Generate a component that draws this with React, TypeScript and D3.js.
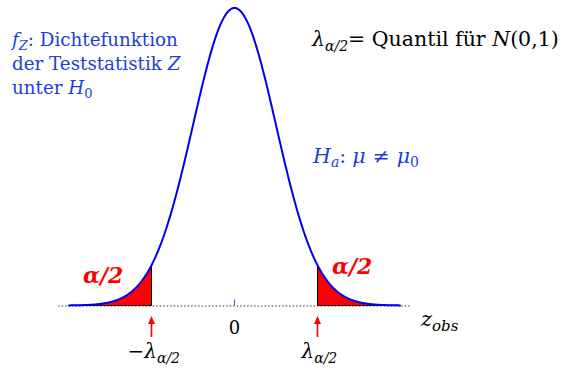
import React from "react";
import * as d3 from "d3";

// Standard normal density with two-sided rejection regions
const lambda = 2.0;
const xDomain = [-4, 4];
const baseDomain = [-4.25, 4.25];
const zeroTick = [0];

const W = 567;
const H = 371;

const phi = (z: number) => Math.exp(-0.5 * z * z) / Math.sqrt(2 * Math.PI);

export default function App() {
  const x = d3.scaleLinear().domain(xDomain).range([68.5, 400.5]);
  const y = d3.scaleLinear().domain([0, phi(0)]).range([305.5, 8]);

  const zs = d3.range(xDomain[0], xDomain[1] + 1e-9, 0.02);
  const line = d3
    .line<number>()
    .x((z) => x(z))
    .y((z) => y(phi(z)));

  const area = d3
    .area<number>()
    .x((z) => x(z))
    .y0(y(0))
    .y1((z) => y(phi(z)));

  const leftTail = zs.filter((z) => z <= -lambda).concat([-lambda]);
  const rightTail = [lambda].concat(zs.filter((z) => z >= lambda));

  const blue = "#1d3fd8";
  const font = "'DejaVu Serif', 'Liberation Serif', serif";

  const arrow = (xp: number) => (
    <g>
      <line x1={xp} x2={xp} y1={337} y2={322} stroke="#ff0000" strokeWidth={1.6} />
      <path d={`M${xp - 3.5},${324} L${xp},${316} L${xp + 3.5},${324} Z`} fill="#ff0000" />
    </g>
  );

  return (
    <svg
      width={W}
      height={H}
      style={{ position: "absolute", left: 0, top: 0, background: "#fff" }}
      fontFamily={font}
    >
      {/* dotted baseline */}
      <line
        x1={x(baseDomain[0])}
        x2={x(baseDomain[1])}
        y1={y(0) + 0.5}
        y2={y(0) + 0.5}
        stroke="#333"
        strokeWidth={1}
        strokeDasharray="1.5,2"
      />
      {/* rejection regions */}
      <path d={area(leftTail) || ""} fill="#ff0000" stroke="#000" strokeWidth={1} />
      <path d={area(rightTail) || ""} fill="#ff0000" stroke="#000" strokeWidth={1} />
      {/* density curve */}
      <path d={line(zs) || ""} fill="none" stroke="#0000ee" strokeWidth={2} />
      {/* tick at zero */}
      {zeroTick.map((t) => (
        <line key={t} x1={x(t)} x2={x(t)} y1={y(0) - 6} y2={y(0)} stroke="#3050ff" strokeWidth={1} />
      ))}
      {arrow(x(-lambda))}
      {arrow(x(lambda))}

      {/* axis labels */}
      <text x={x(0)} y={334} fontSize={18} textAnchor="middle" fill="#000">0</text>
      <text x={x(-lambda) - 24} y={358} fontSize={20} fill="#000">
        −<tspan fontStyle="italic">λ</tspan>
        <tspan fontSize={14} dy={5} fontStyle="italic">α/2</tspan>
      </text>
      <text x={x(lambda) - 16} y={358} fontSize={20} fill="#000">
        <tspan fontStyle="italic">λ</tspan>
        <tspan fontSize={14} dy={5} fontStyle="italic">α/2</tspan>
      </text>
      <text x={421} y={326} fontSize={21} fill="#000" fontStyle="italic">
        z<tspan fontSize={15} dy={5}>obs</tspan>
      </text>

      {/* tail labels */}
      <text x={83} y={283} fontSize={22} fontWeight="bold" fontStyle="italic" fill="#ff0000">α/2</text>
      <text x={332} y={274} fontSize={22} fontWeight="bold" fontStyle="italic" fill="#ff0000">α/2</text>

      {/* density description */}
      <text x={12} y={46} fontSize={18.3} fill={blue}>
        <tspan fontStyle="italic">f</tspan>
        <tspan fontStyle="italic" fontSize={13} dy={4}>Z</tspan>
        <tspan dy={-4}>: Dichtefunktion</tspan>
      </text>
      <text x={12} y={70} fontSize={18.3} fill={blue}>
        der Teststatistik <tspan fontStyle="italic">Z</tspan>
      </text>
      <text x={12} y={94} fontSize={18.3} fill={blue}>
        unter <tspan fontStyle="italic">H</tspan>
        <tspan fontSize={13} dy={4}>0</tspan>
      </text>

      {/* quantile note */}
      <text x={312} y={46} fontSize={20.5} fill="#000">
        <tspan fontStyle="italic">λ</tspan>
        <tspan fontStyle="italic" fontSize={14} dy={5}>α/2</tspan>
        <tspan dy={-5}>= Quantil für </tspan>
        <tspan fontStyle="italic">N</tspan>
        <tspan>(0,1)</tspan>
      </text>

      {/* alternative hypothesis */}
      <text x={313} y={163} fontSize={20.5} fill={blue}>
        <tspan fontStyle="italic">H</tspan>
        <tspan fontStyle="italic" fontSize={14} dy={4}>a</tspan>
        <tspan dy={-4}>:</tspan>
        <tspan dx={6} fontStyle="italic">μ</tspan>
        <tspan dx={7}>≠</tspan>
        <tspan dx={7} fontStyle="italic">μ</tspan>
        <tspan fontSize={14} dy={4}>0</tspan>
      </text>
    </svg>
  );
}
